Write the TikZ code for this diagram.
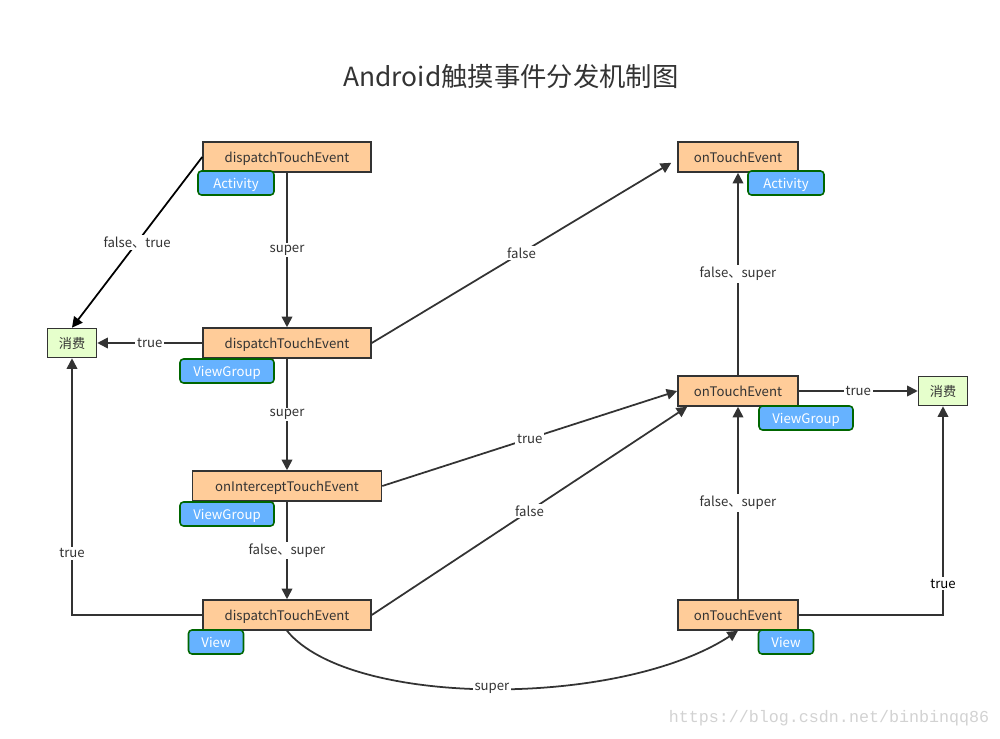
\documentclass[tikz,border=0pt]{standalone}
\usepackage{fontspec}
\setmainfont{Noto Sans CJK SC}
\newfontfamily\urlfont{Liberation Mono}
\usetikzlibrary{arrows.meta}
\usepackage{xcolor}
\definecolor{boxfill}{HTML}{FFCC99}
\definecolor{tagfill}{HTML}{66B2FF}
\definecolor{tagline}{HTML}{006600}
\definecolor{usedfill}{HTML}{E6FFCC}
\definecolor{linecol}{HTML}{333333}

\begin{document}
\begin{tikzpicture}[x=0.02cm,y=-0.02cm,
    every node/.style={font=\fontsize{7.5}{9}\selectfont, text=linecol},
    method/.style={draw=linecol, fill=boxfill, line width=0.9pt, minimum height=0.6cm, inner sep=0pt, text height=0.68em, text depth=0pt},
    layer/.style={draw=tagline, fill=tagfill, line width=0.9pt, rounded corners=2pt, text=white, minimum height=0.48cm, inner sep=0pt, text height=0.68em, text depth=0pt},
    used/.style={draw=linecol, fill=usedfill, line width=0.9pt, minimum width=0.98cm, minimum height=0.58cm, inner sep=0pt, text height=0.68em, text depth=0pt},
    flow/.style={draw=linecol, line width=1pt, -{Triangle[length=6pt,width=6pt]}},
    lbl/.style={fill=white, inner sep=1pt}]
    \useasboundingbox (0,0) rectangle (1000,739);
    \node[font=\fontsize{15}{18}\selectfont] (title) at (511,76) {Android触摸事件分发机制图};

    \node[method, minimum width=3.36cm] (aD) at (287,157) {dispatchTouchEvent};
    \node[method, minimum width=3.36cm] (gD) at (287,343) {dispatchTouchEvent};
    \node[method, minimum width=3.78cm] (gI) at (287,486) {onInterceptTouchEvent};
    \node[method, minimum width=3.36cm] (vD) at (287,615) {dispatchTouchEvent};
    \node[method, minimum width=2.4cm] (aT) at (738,157) {onTouchEvent};
    \node[method, minimum width=2.4cm] (gT) at (738,391) {onTouchEvent};
    \node[method, minimum width=2.4cm] (vT) at (738,615) {onTouchEvent};
    \node[used] (cL) at (72,343) {消费};
    \node[used] (cR) at (943,391) {消费};

    \node[layer, minimum width=1.52cm] (aDtag) at (236,183) {Activity};
    \node[layer, minimum width=1.88cm] (gDtag) at (227,371) {ViewGroup};
    \node[layer, minimum width=1.88cm] (gItag) at (227,514) {ViewGroup};
    \node[layer, minimum width=1.1cm] (vDtag) at (216,642) {View};
    \node[layer, minimum width=1.52cm] (aTtag) at (786,183) {Activity};
    \node[layer, minimum width=1.88cm] (gTtag) at (806,418) {ViewGroup};
    \node[layer, minimum width=1.1cm] (vTtag) at (786,642) {View};

    \draw[flow, draw=black] (aD.west) -- node[lbl] {false、true} (cL.north);
    \draw[flow] (aD) -- node[lbl] {super} (gD);
    \draw[flow] (gD) -- node[lbl] {true} (cL);
    \draw[flow] (gD.east) -- node[lbl] {false} ([xshift=-0.12cm,yshift=0.2cm]aT.south west);
    \draw[flow] (gD) -- node[lbl] {super} (gI);
    \draw[flow] (gI.east) -- node[lbl] {true} (gT.west);
    \draw[flow] (gI) -- node[lbl] {false、super} (vD);
    \draw[flow] (vD.west) -| node[lbl, pos=0.62] {true} (cL.south);
    \draw[flow] (vD.east) -- node[lbl] {false} ([xshift=0.2cm]gT.south west);
    \draw[flow] (vD.south) .. controls (350,708) and (620,708) .. node[lbl] {super} (vT.south);
    \draw[flow] (vT) -- node[lbl] {false、super} (gT);
    \draw[flow] (gT) -- node[lbl] {false、super} (aT);
    \draw[flow] (gT) -- node[lbl] {true} (cR);
    \draw[flow] (vT.east) -| node[lbl, pos=0.575, text=black] {true} (cR.south);

    \node[font=\urlfont\fontsize{9.5}{11}\selectfont, text=gray!35] (wm) at (829,718) {https://blog.csdn.net/binbinqq86};
\end{tikzpicture}
\end{document}
